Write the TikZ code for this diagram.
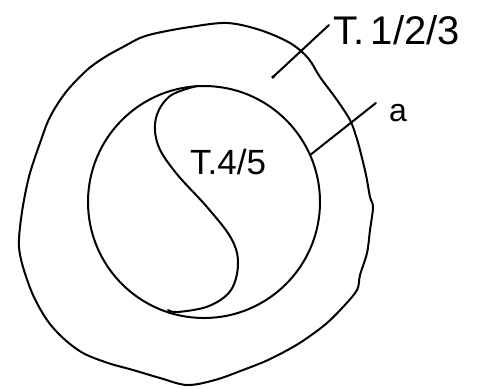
\documentclass[tikz,border=0pt]{standalone}
\usepackage{fontspec}
\setmainfont{Liberation Sans}
\begin{document}
\begin{tikzpicture}[x=1pt,y=-1pt,
  ink/.style={line width=2pt,line cap=round,line join=round,black},
  lbl/.style={inner sep=0pt,font=\fontsize{40}{44}\selectfont}]
\useasboundingbox (0,0) rectangle (478,388);
% outer blob
\draw[ink] plot[smooth cycle,tension=0.55] coordinates {
 (157,33) (190,27) (227,23) (260,30) (290,43) (308,58) (320,77) (337,100)
 (350,120) (356,136) (360,150) (366,175) (370,197) (373,207) (370,230)
 (367,253) (360,275) (357,290) (343,307) (327,323) (310,336) (293,347)
 (268,360) (243,370) (215,380) (187,385) (160,378) (133,370) (108,363)
 (83,353) (63,338) (47,320) (33,295) (23,267) (19,247) (20,227) (24,200)
 (30,173) (40,143) (50,117) (66,92) (87,70) (105,57) (123,47) (140,38)};
% inner circle
\node[ink,draw,circle,minimum size=232pt,inner sep=0pt] (inner) at (204,202) {};
% S curve
\draw[ink] plot[smooth,tension=0.6] coordinates {
 (197,86) (170,96) (156,118) (158,145) (176,173) (207,207) (231,238)
 (238,263) (231,290) (209,306) (178,312) (168,310)};
% labels
\node[lbl,anchor=west] (t123) at (333,30) {T.\,1/2/3};
\node[lbl,font=\fontsize{35}{38}\selectfont] (t45) at (228,162) {T.4/5};
\node[inner sep=0pt,font=\fontsize{32}{36}\selectfont] (a) at (398,113) {a};
\coordinate (p1) at (273,77);
\draw[ink] (p1) -- ([shift={(-4pt,5pt)}]t123.west);
\draw[ink] (inner.24) -- ([shift={(-13pt,10pt)}]a.west) ;
\fill (p1) circle (1.8pt);
\end{tikzpicture}
\end{document}
